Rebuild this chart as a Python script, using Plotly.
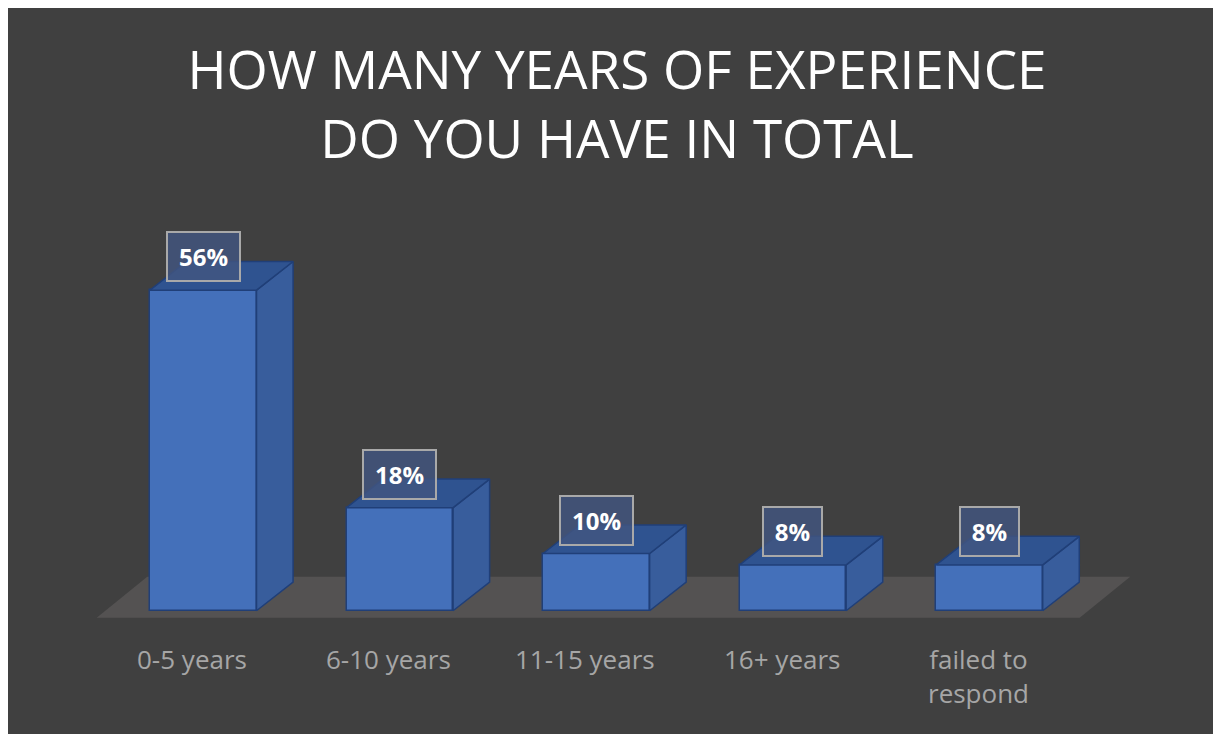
import plotly.graph_objects as go

# ---------------- data ----------------
categories = ["0-5 years", "6-10 years", "11-15 years", "16+ years", "failed to respond"]
tick_labels = ["0-5 years", "6-10 years", "11-15 years", "16+ years", "failed to<br>respond"]
percent_values = [56, 18, 10, 8, 8]
title_lines = ["HOW MANY YEARS OF EXPERIENCE", "DO YOU HAVE IN TOTAL"]

# ---------------- style ----------------
BG = "#404040"
FRONT = "#4470ba"
SIDE = "#385d9c"
TOP = "#2f5390"
EDGE = "#203f78"
FLOOR = "#545252"
BAR_W = 0.542          # bar width in category units
DEPTH_X = 0.186        # 3-D depth offset (x, category units)
DEPTH_Y = 5.0          # 3-D depth offset (y, percent units)
LABEL_OFF = 5.85       # data-label centre above bar front top (percent units)

n = len(categories)
xs = list(range(n))

fig = go.Figure()

# floor (below everything)
f_front_y, f_dx, f_dy = -1.22, 0.257, 7.16
fl_l, fl_r = -0.542, (n - 1) + 0.459
fig.add_shape(
    type="path", layer="below", xref="x", yref="y",
    path=(f"M {fl_l},{f_front_y} L {fl_r},{f_front_y} "
          f"L {fl_r + f_dx},{f_front_y + f_dy} L {fl_l + f_dx},{f_front_y + f_dy} Z"),
    fillcolor=FLOOR, line=dict(width=0),
)

# side faces
sx, sy = [], []
for x, v in zip(xs, percent_values):
    r = x + BAR_W / 2
    sx += [r, r + DEPTH_X, r + DEPTH_X, r, r, None]
    sy += [0, DEPTH_Y, v + DEPTH_Y, v, 0, None]
fig.add_trace(go.Scatter(x=sx, y=sy, mode="lines", fill="toself", fillcolor=SIDE,
                         line=dict(color=EDGE, width=1.5), hoverinfo="skip", showlegend=False))

# top faces
tx, ty = [], []
for x, v in zip(xs, percent_values):
    l, r = x - BAR_W / 2, x + BAR_W / 2
    tx += [l, l + DEPTH_X, r + DEPTH_X, r, l, None]
    ty += [v, v + DEPTH_Y, v + DEPTH_Y, v, v, None]
fig.add_trace(go.Scatter(x=tx, y=ty, mode="lines", fill="toself", fillcolor=TOP,
                         line=dict(color=EDGE, width=1.5), hoverinfo="skip", showlegend=False))

# front faces
fig.add_trace(go.Bar(x=xs, y=percent_values, width=BAR_W,
                     marker=dict(color=FRONT, line=dict(color=EDGE, width=1.5)),
                     hovertext=categories, showlegend=False))

# data labels
for x, v in zip(xs, percent_values):
    txt = f"{v}%"
    fig.add_annotation(
        x=x, y=v + LABEL_OFF, xref="x", yref="y", text=f"<b>{txt}</b>", showarrow=False,
        font=dict(family="Open Sans", size=24, color="#ffffff"),
        bgcolor="rgba(66,86,128,0.82)", bordercolor="#a9a9a9", borderwidth=2, borderpad=8,
        width=14 * len(txt) + 13, height=31,
    )

# category labels
for x, lab in zip(xs, tick_labels):
    fig.add_annotation(
        x=x, y=-4.9, xref="x", yref="y", yanchor="top", text=lab, showarrow=False,
        xshift=-11, font=dict(family="Open Sans", size=26, color="#a6a6a6"),
    )

fig.update_layout(
    width=1221, height=734,
    margin=dict(l=38, r=43, t=202, b=74),
    paper_bgcolor=BG, plot_bgcolor=BG,
    title=dict(text="<br>".join(title_lines), x=609 / 1221, xanchor="center", xref="container",
               y=1 - 81 / 734, yanchor="top", yref="container",
               font=dict(family="Open Sans", size=53, color="#ffffff")),
    xaxis=dict(range=[-0.8, 5.0], visible=False, fixedrange=True),
    yaxis=dict(range=[-10, 70], visible=False, fixedrange=True),
    bargap=0, showlegend=False,
)

fig.write_html("out.html")
